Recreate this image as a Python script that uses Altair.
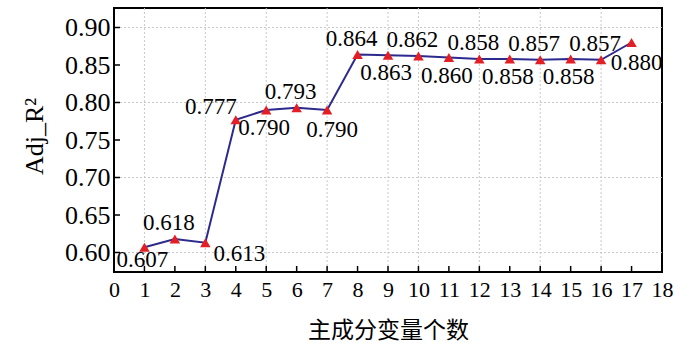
import altair as alt
import pandas as pd

# ---- data ----
n_vars = list(range(1, 18))
adj_r2 = [0.607, 0.618, 0.613, 0.777, 0.790, 0.793, 0.790, 0.864, 0.863,
          0.862, 0.860, 0.858, 0.858, 0.857, 0.858, 0.857, 0.880]
label_text = ["0.607", "0.618", "0.613", "0.777", "0.790", "0.793", "0.790", "0.864", "0.863",
              "0.862", "0.860", "0.858", "0.858", "0.857", "0.858", "0.857", "0.880"]
label_side = ["bl", "a", "r", "al", "b", "a", "br", "a", "b",
              "a", "b", "a", "b", "a", "b", "a", "br"]
x_ticks = list(range(0, 19))
y_ticks = [0.60, 0.65, 0.70, 0.75, 0.80, 0.85, 0.90]
x_grid = [1, 3, 5, 7, 9, 10, 12, 14, 16]
y_grid = [0.60, 0.70, 0.80, 0.90]

x_title = "主成分变量个数"
y_title = "Adj_R²"

# ---- styles ----
W, H = 548, 264
SERIF = "'Liberation Serif', 'Times New Roman', 'DejaVu Serif', serif"
offsets = {"a": (-6, -16), "b": (-2, 18), "bl": (-2, 13),
           "r": (34, 11), "al": (-25, -13), "br": (5, 20)}

df = pd.DataFrame({"x": n_vars, "y": adj_r2, "lab": label_text, "side": label_side})

xscale = alt.Scale(domain=[0, 18], nice=False, zero=False)
yscale = alt.Scale(domain=[0.574, 0.926], nice=False, zero=False)

xaxis = alt.Axis(values=x_ticks, format="d", title=x_title, grid=False, ticks=False,
                 domain=False, labelFont=SERIF, labelFontSize=22, labelColor="black",
                 labelPadding=7, labelOverlap=False, labelFlush=False,
                 titleFont="'Noto Sans CJK SC'", titleFontSize=23, titleFontWeight="normal",
                 titleColor="black", titleY=58, titleBaseline="middle")
yaxis = alt.Axis(values=y_ticks, format=".2f", title=y_title, grid=False, ticks=False,
                 domain=False, labelFont=SERIF, labelFontSize=26, labelColor="black",
                 labelPadding=4, labelOverlap=False, labelFlush=False,
                 titleFont=SERIF, titleFontSize=26, titleFontWeight="normal",
                 titleColor="black", titleX=-80, titleY=128, titleBaseline="middle",
                 titleAlign="center")

X = alt.X("x:Q", scale=xscale, axis=xaxis)
Y = alt.Y("y:Q", scale=yscale, axis=yaxis)

gridx = alt.Chart(pd.DataFrame({"x": x_grid})).mark_rule(
    color="#c8c8c8", strokeDash=[2, 2], strokeWidth=1).encode(x=X)
gridy = alt.Chart(pd.DataFrame({"y": y_grid})).mark_rule(
    color="#c8c8c8", strokeDash=[2, 2], strokeWidth=1).encode(y=Y)

tickx = alt.Chart(pd.DataFrame({"x": x_ticks})).mark_rule(
    color="black", strokeWidth=1.5).encode(x=X, y=alt.value(H), y2=alt.value(H - 6))
ticky = alt.Chart(pd.DataFrame({"y": y_ticks})).mark_rule(
    color="black", strokeWidth=1.5).encode(y=Y, x=alt.value(0), x2=alt.value(6))

line = alt.Chart(df).mark_line(color="#2D2A8E", strokeWidth=2).encode(x=X, y=Y)
pts = alt.Chart(df).mark_point(shape="triangle-up", filled=True, opacity=1,
                               color="#E31E24", size=110).encode(x=X, y=Y)

texts = []
for side, (dx, dy) in offsets.items():
    texts.append(
        alt.Chart(df).transform_filter(alt.datum.side == side).mark_text(
            font=SERIF, fontSize=23, color="black", dx=dx, dy=dy,
            align="center", baseline="middle").encode(x=X, y=Y, text="lab:N")
    )

chart = alt.layer(gridx, gridy, line, pts, tickx, ticky, *texts).properties(
    width=W, height=H,
    padding={"left": 114, "top": 8, "right": 38, "bottom": 73},
    autosize=alt.AutoSizeParams(type="none"),
    background="white",
).configure_view(stroke="black", strokeWidth=2)

chart.save("out.html", embed_options={"renderer": "svg", "actions": False})
